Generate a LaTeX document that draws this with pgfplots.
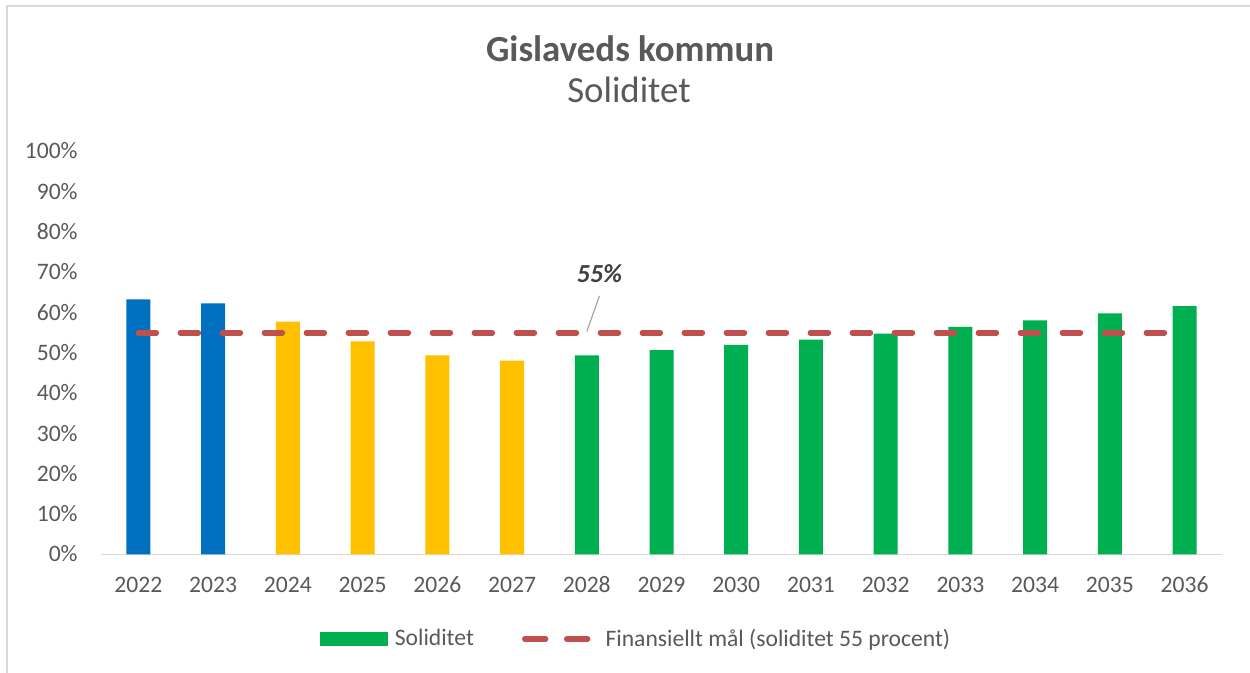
\documentclass[border=0pt]{standalone}
\usepackage{fontspec}
\setmainfont{Carlito}
\usepackage{pgfplots}
\pgfplotsset{compat=1.18}

\definecolor{txt}{HTML}{595959}
\definecolor{lbl}{HTML}{404040}
\definecolor{bordercol}{HTML}{D9D9D9}
\definecolor{axiscol}{HTML}{D9D9D9}
\definecolor{leader}{HTML}{A6A6A6}
\definecolor{cblue}{RGB}{0,112,192}
\definecolor{cyellow}{RGB}{255,192,0}
\definecolor{cgreen}{RGB}{0,176,80}
\definecolor{cred}{RGB}{192,80,77}

\begin{document}
\begin{tikzpicture}
% page frame, 0.5pt per pixel of the reference
\path[use as bounding box] (0,0) rectangle (625pt,336.5pt);
\draw[bordercol, line width=1pt] (3.5pt,0pt) -- (3.5pt,333.5pt) -- (625pt,333.5pt);

% titles
\node[anchor=base, text=txt, font=\fontsize{18.4}{22}\selectfont\bfseries] at (315pt,305.7pt) {Gislaveds kommun};
\node[anchor=base, text=txt, font=\fontsize{18.4}{22}\selectfont] at (314.5pt,285pt) {Soliditet};

\begin{axis}[
    at={(50.5pt,59.25pt)}, anchor=south west,
    width=560.5pt, height=201.5pt, scale only axis,
    xmin=-0.5, xmax=14.5, ymin=0, ymax=100,
    axis x line*=bottom, axis y line*=left,
    x axis line style={draw=axiscol, line width=0.75pt, -},
    y axis line style={draw=none},
    major tick length=0pt,
    xtick={0,1,...,14},
    xticklabels={2022,2023,2024,2025,2026,2027,2028,2029,2030,2031,2032,2033,2034,2035,2036},
    ytick={0,10,...,100},
    yticklabels={0\%,10\%,20\%,30\%,40\%,50\%,60\%,70\%,80\%,90\%,100\%},
    tick label style={font=\fontsize{11.8}{14}\selectfont, text=txt, inner sep=0pt},
    xticklabel style={anchor=base, yshift=-19.25pt},
    yticklabel style={anchor=base east, xshift=-11.5pt, yshift=-3.75pt},
    legend columns=2,
    legend style={
        at={(0.4764,-0.2097)}, anchor=center,
        draw=none, fill=none,
        font=\fontsize{11.8}{14}\selectfont, text=txt,
        nodes={inner sep=0pt},
        /tikz/every odd column/.append style={column sep=3.5pt},
        /tikz/every even column/.append style={column sep=24pt},
    },
]

% Soliditet, prognosis years
\addplot[ybar, bar width=12pt, bar shift=0pt, fill=cgreen, draw=none,
    legend image code/.code={\fill[cgreen] (0pt,-3.5pt) rectangle (34pt,3.5pt);}]
    coordinates {(6,49.4) (7,50.7) (8,52.0) (9,53.3) (10,54.8) (11,56.5) (12,58.1) (13,59.8) (14,61.6)};
\addlegendentry{Soliditet}

% outcome years
\addplot[ybar, bar width=12pt, bar shift=0pt, fill=cblue, draw=none, forget plot]
    coordinates {(0,63.3) (1,62.3)};
% budget years
\addplot[ybar, bar width=12pt, bar shift=0pt, fill=cyellow, draw=none, forget plot]
    coordinates {(2,57.8) (3,52.9) (4,49.4) (5,48.1)};

% financial target 55 %
\addplot[cred, line width=2.8pt, line cap=round, dash pattern=on 9pt off 12pt,
    legend image code/.code={
        \path (0pt,0pt) -- (35.5pt,0pt);
        \draw[cred, line width=2.8pt, line cap=round, dash pattern=on 9pt off 12pt] (1.4pt,0pt) -- (31.6pt,0pt);}]
    coordinates {(0,55) (1,55) (2,55) (3,55) (4,55) (5,55) (6,55) (7,55) (8,55) (9,55) (10,55) (11,55) (12,55) (13,55) (14,55)};
\addlegendentry{Finansiellt mål (soliditet 55 procent)}

% data label for the target
\draw[leader, line width=0.6pt] (axis cs:6.0,55.3) -- (axis cs:6.17,64.2);
\node[anchor=base, text=lbl, font=\fontsize{13}{15}\selectfont\bfseries\itshape] at (axis cs:6.17,67.4) {55\%};

\end{axis}
\end{tikzpicture}
\end{document}
